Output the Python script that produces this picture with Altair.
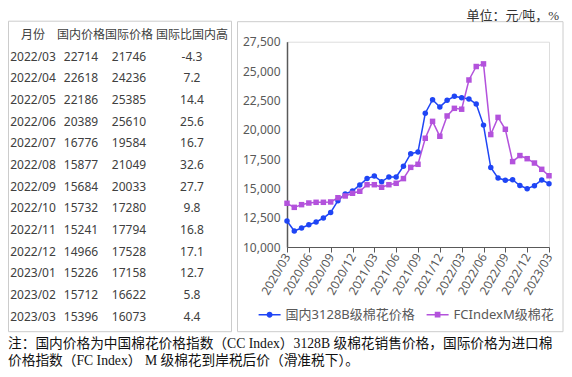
import altair as alt
import pandas as pd

# ---------------- data ----------------
months = ["2020/03", "2020/04", "2020/05", "2020/06", "2020/07", "2020/08", "2020/09",
          "2020/10", "2020/11", "2020/12", "2021/01", "2021/02", "2021/03", "2021/04",
          "2021/05", "2021/06", "2021/07", "2021/08", "2021/09", "2021/10", "2021/11",
          "2021/12", "2022/01", "2022/02", "2022/03", "2022/04", "2022/05", "2022/06",
          "2022/07", "2022/08", "2022/09", "2022/10", "2022/11", "2022/12", "2023/01",
          "2023/02", "2023/03"]
tick_months = ["2020/03", "2020/06", "2020/09", "2020/12", "2021/03", "2021/06", "2021/09",
               "2021/12", "2022/03", "2022/06", "2022/09", "2022/12", "2023/03"]
y_ticks = [10000, 12500, 15000, 17500, 20000, 22500, 25000, 27500]

series = ["国内3128B级棉花价格", "FCIndexM级棉花"]
colors = ["#1f45f5", "#b352dc"]

# table
table_header = ["月份", "国内价格", "国际价格", "国际比国内高"]
table_months = ["2022/03", "2022/04", "2022/05", "2022/06", "2022/07", "2022/08", "2022/09",
                "2022/10", "2022/11", "2022/12", "2023/01", "2023/02", "2023/03"]
dom_price = [22714, 22618, 22186, 20389, 16776, 15877, 15684, 15732, 15241, 14966, 15226, 15712, 15396]
intl_price = [21746, 24236, 25385, 25610, 19584, 21049, 20033, 17280, 17794, 17528, 17158, 16622, 16073]
diff_pct = ["-4.3", "7.2", "14.4", "25.6", "16.7", "32.6", "27.7", "9.8", "16.8", "17.1", "12.7", "5.8", "4.4"]

# earlier months (2020/03 - 2022/02)
dom_early = [12220, 11360, 11620, 11900, 12130, 12470, 12950, 13950, 14520, 14770, 15290, 15830,
             16050, 15570, 15970, 15970, 16880, 17950, 18100, 21400, 22560, 21940, 22500, 22850]
intl_early = [13725, 13380, 13610, 13750, 13810, 13810, 13840, 14200, 14350, 14580, 14750, 15310,
              15310, 15090, 15310, 15430, 15830, 16790, 17050, 19270, 20710, 19440, 21170, 21820]

dom_series = dom_early + dom_price
intl_series = intl_early + intl_price

unit_text = "单位：元/吨，%"
note_lines = ["注：国内价格为中国棉花价格指数（CC Index）3128B 级棉花销售价格，国际价格为进口棉",
              "价格指数（FC Index） M 级棉花到岸税后价（滑准税下）。"]

# ---------------- frames ----------------
rows = []
for m, v in zip(months, dom_series):
    rows.append({"month": m, "price": v, "series": series[0]})
for m, v in zip(months, intl_series):
    rows.append({"month": m, "price": v, "series": series[1]})
df = pd.DataFrame(rows)

trows = []
for c, h in enumerate(table_header):
    trows.append({"row": 0, "col": c, "text": h})
for i in range(len(table_months)):
    vals = [table_months[i], str(dom_price[i]), str(intl_price[i]), diff_pct[i]]
    for c, v in enumerate(vals):
        trows.append({"row": i + 1, "col": c, "text": v})
tdf = pd.DataFrame(trows)

FONT = "Noto Sans, Noto Sans CJK SC"
SERIF = "Liberation Serif, Noto Sans CJK SC"
AX = "#595959"

one = pd.DataFrame([{"k": 0}])

x_scale = alt.Scale(domain=months, padding=0)
y_scale = alt.Scale(domain=[10000, 27500])

# borders
table_box = alt.Chart(one).mark_rect(fill=None, stroke="#cccccc", strokeWidth=1).encode(
    x=alt.value(-278.5), x2=alt.value(-55.5), y=alt.value(-20.5), y2=alt.value(290))
chart_box = alt.Chart(one).mark_rect(fill=None, stroke="#cccccc", strokeWidth=1).encode(
    x=alt.value(-49.5), x2=alt.value(276), y=alt.value(-20), y2=alt.value(290))

table = alt.Chart(tdf).mark_text(fontSize=12, font=FONT, color="#404040").encode(
    x=alt.X("col:Q", scale=alt.Scale(domain=[0, 1, 2, 3], range=[-254, -206, -158, -95]), axis=None),
    y=alt.Y("row:Q", scale=alt.Scale(domain=[0, 13], range=[-6.7, 275]), axis=None),
    text="text:N")

unit = alt.Chart(one).mark_text(fontSize=13, font=SERIF, color="#333333", align="right").encode(
    x=alt.value(272), y=alt.value(-25.5), text=alt.value(unit_text))

note1 = alt.Chart(one).mark_text(fontSize=13.7, font=SERIF, color="#111111", align="left").encode(
    x=alt.value(-279), y=alt.value(302), text=alt.value(note_lines[0]))
note2 = alt.Chart(one).mark_text(fontSize=13.7, font=SERIF, color="#111111", align="left").encode(
    x=alt.value(-279), y=alt.value(319.5), text=alt.value(note_lines[1]))

base = alt.Chart(df)

line = base.mark_line(strokeWidth=1.5).encode(
    x=alt.X("month:O", scale=x_scale, sort=months,
            axis=alt.Axis(values=tick_months, labelAngle=300, title=None, labelFont=FONT,
                          labelFontSize=12, labelColor=AX, domainColor=AX, tickColor=AX,
                          domainWidth=1.2, tickSize=5, labelPadding=2, grid=False)),
    y=alt.Y("price:Q", scale=y_scale,
            axis=alt.Axis(values=y_ticks, labelExpr="format(datum.value, ',.0f')", title=None,
                          ticks=False, grid=False, labelFont=FONT, labelFontSize=12,
                          labelColor=AX, domainColor=AX, domainWidth=1.5, labelPadding=7)),
    color=alt.Color("series:N", scale=alt.Scale(domain=series, range=colors), legend=None),
)

points = base.mark_point(filled=True, size=30, opacity=1).encode(
    x=alt.X("month:O", scale=x_scale, sort=months, axis=None),
    y=alt.Y("price:Q", scale=y_scale, axis=None),
    color=alt.Color("series:N", scale=alt.Scale(domain=series, range=colors), legend=None),
    shape=alt.Shape("series:N", scale=alt.Scale(domain=series, range=["circle", "square"]), legend=None),
)

circ_path = ("M-1,-0.07H1V0.07H-1Z "
             "M-0.27,0A0.27,0.27 0 1,1 0.27,0A0.27,0.27 0 1,1 -0.27,0Z")
sq_path = "M-1,-0.07H1V0.07H-1Z M-0.26,-0.26H0.26V0.26H-0.26Z"

leg_props = dict(orient="none", legendX=-28.4, legendY=262, direction="horizontal", title=None,
                 symbolSize=484, labelFontSize=13, labelFont=FONT, labelColor=AX, labelOffset=5,
                 columnPadding=11, padding=0, symbolStrokeWidth=0, symbolOpacity=1)

legend_layer = base.transform_filter("false").mark_point(filled=True, opacity=1, strokeWidth=0).encode(
    x=alt.X("month:O", scale=x_scale, sort=months, axis=None),
    y=alt.Y("price:Q", scale=y_scale, axis=None),
    color=alt.Color("series:N", scale=alt.Scale(domain=series, range=colors),
                    legend=alt.Legend(**leg_props)),
    shape=alt.Shape("series:N", scale=alt.Scale(domain=series, range=[circ_path, sq_path]),
                    legend=alt.Legend(**leg_props)),
)

chart = alt.layer(table_box, chart_box, table, unit, note1, note2, line, points, legend_layer).resolve_scale(
    x="independent", y="independent", color="independent", shape="independent"
).properties(
    width=262, height=205.3,
    autosize=alt.AutoSizeParams(type="none"),
    padding={"left": 279, "top": 33.7, "right": 15, "bottom": 122},
).configure_view(stroke=None).configure(background="white")

chart.save("out.html", embed_options={"renderer": "svg", "actions": False})
